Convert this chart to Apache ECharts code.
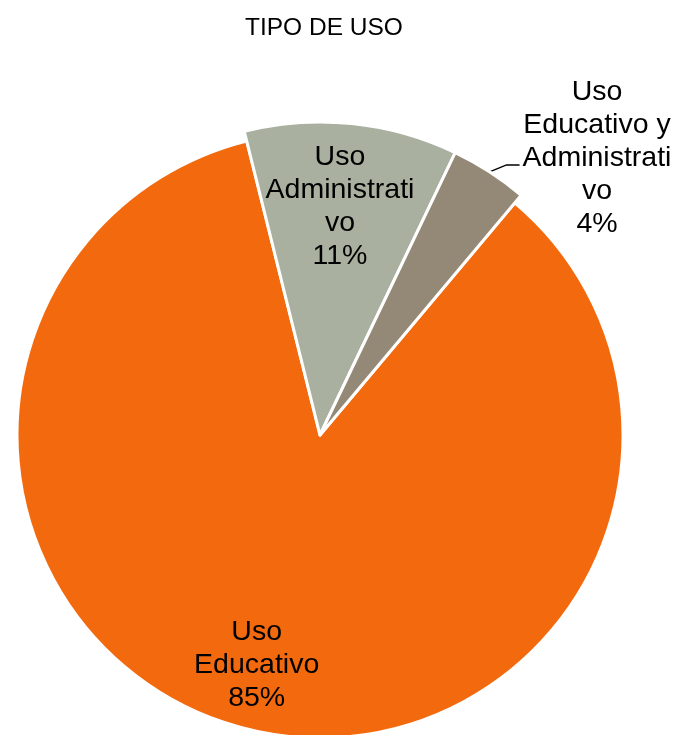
<!DOCTYPE html>
<html>
<head>
<meta charset="utf-8">
<script src="https://cdn.jsdelivr.net/npm/echarts@6/dist/echarts.min.js"></script>
<style>
html,body{margin:0;padding:0;background:#fff;}
#chart{width:675px;height:735px;}
</style>
</head>
<body>
<div id="chart"></div>
<script>
var categories = ['Uso Educativo', 'Uso Administrativo', 'Uso Educativo y Administrativo'];
var values = [85, 11, 4];
var labelTexts = ['Uso\nEducativo', 'Uso\nAdministrati\nvo', 'Uso\nEducativo y\nAdministrati\nvo'];
var titleText = 'TIPO DE USO';

var colors = ['#F36A0E', '#A9B09F', '#948977'];
var CX = 320, CY = 435;
var FONT = "'Liberation Sans', Arial, sans-serif";
// visible in the big-radius series or the small-radius series
var bigSlice = [false, true, true];
var insideLabel = [true, true, false];
var labelScale = [1.544, 1.436, 1];
var labelTurn = [2.4, -0.8, 0];

function buildData(big) {
  return categories.map(function (name, i) {
    var visible = bigSlice[i] === big;
    return {
      name: name,
      value: values[i],
      itemStyle: visible ? { color: colors[i], borderColor: '#ffffff', borderWidth: 3 }
                         : { color: 'rgba(0,0,0,0)', borderWidth: 0 },
      label: visible ? {
        show: true,
        position: insideLabel[i] ? 'inside' : 'outside'
      } : { show: false },
      labelLine: { show: visible && !insideLabel[i] },
      silent: !visible
    };
  });
}

function fmt(p) {
  return labelTexts[p.dataIndex] + '\n' + Math.round(p.percent) + '%';
}

function layout(p) {
  var r = p.labelRect;
  var lx = r.x + r.width / 2, ly = r.y + r.height / 2;
  var i = p.dataIndex;
  if (insideLabel[i]) {
    var k = labelScale[i];
    var a = labelTurn[i] * Math.PI / 180;
    var dx = (lx - CX) * k, dy = (ly - CY) * k;
    var rx = dx * Math.cos(a) - dy * Math.sin(a);
    var ry = dx * Math.sin(a) + dy * Math.cos(a);
    return { x: CX + rx, y: CY + ry, align: 'center', verticalAlign: 'middle' };
  }
  var pts = p.labelLinePoints;
  if (pts && pts.length) {
    var s = pts[0];
    var m = [s[0] + 17, s[1] - 7];
    var e = [m[0] + 13, m[1]];
    return {
      x: e[0] + 3 + r.width / 2,
      y: e[1] - 7,
      align: 'center',
      verticalAlign: 'middle',
      labelLinePoints: [s, m, e]
    };
  }
  return { x: lx, y: ly, align: 'center', verticalAlign: 'middle' };
}

var labelCommon = {
  formatter: fmt,
  color: '#000',
  fontFamily: FONT,
  fontSize: 28.5,
  lineHeight: 33,
  align: 'center'
};

var chart = echarts.init(document.getElementById('chart'), null, { renderer: 'canvas' });
chart.setOption({
  animation: false,
  backgroundColor: '#ffffff',
  title: {
    text: titleText,
    left: 240,
    top: 11,
    textStyle: { fontFamily: FONT, fontSize: 24.5, fontWeight: 'normal', color: '#000' }
  },
  series: [
    {
      type: 'pie',
      center: [CX, CY],
      radius: [0, 303],
      startAngle: 50,
      clockwise: true,
      avoidLabelOverlap: false,
      label: labelCommon,
      labelLayout: layout,
      emphasis: { disabled: true },
      data: buildData(false)
    },
    {
      type: 'pie',
      center: [CX, CY],
      radius: [0, 313],
      startAngle: 50,
      clockwise: true,
      avoidLabelOverlap: false,
      label: labelCommon,
      labelLine: { length: 20, length2: 14, lineStyle: { color: '#000', width: 1.5 } },
      labelLayout: layout,
      emphasis: { disabled: true },
      data: buildData(true)
    }
  ]
});
</script>
</body>
</html>
